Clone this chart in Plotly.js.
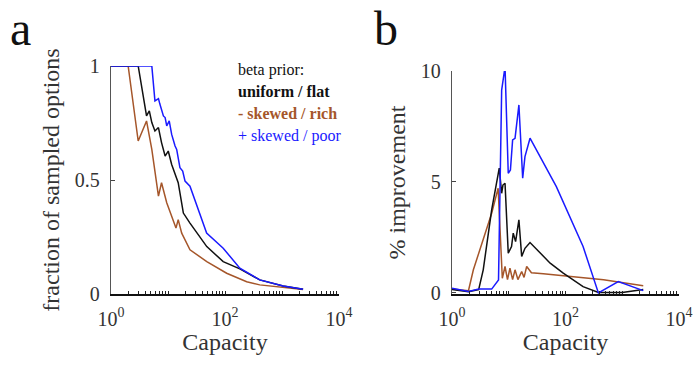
<!DOCTYPE html>
<html>
<head>
<meta charset="utf-8">
<script src="https://cdn.plot.ly/plotly-3.0.1.min.js"></script>
<style>html,body{margin:0;padding:0;background:#fff;}#chart{width:694px;height:370px;}</style>
</head>
<body>
<div id="chart"></div>
<script>
// ---- Panel a: fraction of sampled options ----
const aUniformX = [1, 3, 4.2, 4.7, 5.2, 5.9, 6.8, 7.7, 8.9, 10.1, 11.6, 13.8, 15.1, 16.2, 18.6, 24.3, 47.9, 93, 182, 407, 1047, 2344];
const aUniformY = [1, 1, 0.781, 0.803, 0.752, 0.715, 0.730, 0.664, 0.605, 0.627, 0.568, 0.510, 0.488, 0.444, 0.355, 0.311, 0.208, 0.142, 0.110, 0.062, 0.035, 0.021];
const aRichX = [1, 2, 3, 4.2, 5.2, 6.8, 7.7, 9.5, 11.6, 13.8, 15.1, 17.4, 24.3, 47.9, 107, 240, 407, 1047, 2344];
const aRichY = [1, 1, 0.671, 0.759, 0.634, 0.429, 0.488, 0.400, 0.341, 0.289, 0.326, 0.267, 0.194, 0.142, 0.091, 0.054, 0.040, 0.028, 0.020];
const aPoorX = [1, 5.2, 5.9, 6.8, 7.2, 8.3, 8.9, 9.5, 10.5, 11.6, 13.3, 14.2, 16.2, 18.1, 19.9, 24.3, 47.6, 93, 182, 407, 1047, 2344];
const aPoorY = [1, 1, 0.847, 0.857, 0.833, 0.781, 0.774, 0.737, 0.759, 0.700, 0.649, 0.634, 0.554, 0.539, 0.495, 0.473, 0.267, 0.201, 0.113, 0.062, 0.035, 0.021];

// ---- Panel b: % improvement ----
const bUniformX = [1, 1.95, 2.95, 3.55, 5.0, 6.8, 7.5, 7.9, 8.6, 9.8, 11.2, 12.0, 13.2, 15.1, 16.9, 19.3, 23.7, 53.7, 91.2, 204, 380, 1000, 2344];
const bUniformY = [0.15, 0.05, 0.15, 1.04, 3.74, 5.62, 4.49, 4.86, 4.94, 1.79, 2.09, 2.69, 2.31, 3.29, 1.64, 2.01, 2.27, 1.34, 0.89, 0.28, 0.02, 0.02, 0.15];
const bRichX = [1, 1.95, 2.38, 3.55, 5.0, 6.5, 7.7, 8.6, 9.5, 10.5, 11.7, 12.9, 14.5, 16.9, 18.6, 20.7, 25.1, 40.7, 468, 2344];
const bRichY = [0.17, 0.10, 1.04, 2.39, 3.59, 4.72, 0.66, 1.19, 0.60, 1.11, 0.60, 1.04, 0.60, 0.96, 0.70, 1.19, 0.91, 0.86, 0.59, 0.32];
const bPoorX = [1, 1.95, 2.95, 5.0, 6.6, 7.5, 8.6, 9.8, 10.7, 11.7, 12.9, 15.1, 17.6, 19.3, 23.7, 69, 204, 380, 851, 2344];
const bPoorY = [0.21, 0.06, 0.17, 0.17, 0.58, 9.14, 10.19, 5.39, 5.54, 6.89, 6.97, 8.47, 5.17, 6.14, 6.97, 4.79, 2.09, 0, 0.51, 0.10];

const legendLines = ["beta prior:", "<b>uniform / flat</b>", "<b>- skewed / rich</b>", "+ skewed / poor"];
const aYTicks = [0, 0.5, 1];
const aYTickText = ["0", "0.5", "1"];
const bYTicks = [0, 5, 10];
const bYTickText = ["0", "5", "10"];
const xTickVals = [1, 100, 10000];
const xTickText = ["10<sup>0</sup>", "10<sup>2</sup>", "10<sup>4</sup>"];

const BROWN = "#a5562a", BLUE = "#1a1aff", BLACK = "#111111";
const FONT = "'Liberation Serif', 'Times New Roman', serif";

// minor log tick positions (every digit of each decade)
const xMinorVals = [];
for (let d = 0; d < 4; d++) {
  for (let k = 1; k < 10; k++) xMinorVals.push(k * Math.pow(10, d));
}
xMinorVals.push(10000);

function line(x, y, color, xa, ya) {
  return {x: x, y: y, type: "scatter", mode: "lines", xaxis: xa, yaxis: ya,
          line: {color: color, width: 1.5}, hoverinfo: "skip", showlegend: false};
}
const data = [
  line(aRichX, aRichY, BROWN, "x", "y"),
  line(aUniformX, aUniformY, BLACK, "x", "y"),
  line(aPoorX, aPoorY, BLUE, "x", "y"),
  line(bRichX, bRichY, BROWN, "x2", "y2"),
  line(bUniformX, bUniformY, BLACK, "x2", "y2"),
  line(bPoorX, bPoorY, BLUE, "x2", "y2")
];

function xAxis(domain, anchor) {
  return {type: "log", range: [0, 4], domain: domain, anchor: anchor,
    tickvals: xTickVals, ticktext: xTickText, tickangle: 0, ticks: "inside", ticklen: 3, tickwidth: 1, tickcolor: "#222",
    minor: {tickvals: xMinorVals, ticks: "inside", ticklen: 3, tickwidth: 1, tickcolor: "#222", showgrid: false},
    showline: true, linecolor: "#111", linewidth: 1.5, showgrid: false, zeroline: false,
    tickfont: {family: FONT, size: 20, color: "#333"}, ticklabelstandoff: 6,
    title: {text: "Capacity", font: {family: FONT, size: 24, color: "#333"}, standoff: 4}};
}
function yAxis(domain, anchor, range, vals, text, title) {
  return {range: range, domain: domain, anchor: anchor, tickvals: vals, ticktext: text,
    ticks: "inside", ticklen: 4, tickcolor: "#444", showline: true, linecolor: "#555", linewidth: 1.2,
    showgrid: false, zeroline: false, tickfont: {family: FONT, size: 20, color: "#333"}, ticklabelstandoff: 6,
    title: {text: title, font: {family: FONT, size: 24, color: "#333"}, standoff: 8}};
}

const annotations = [
  {text: "a", x: 8, y: 57},
  {text: "b", x: 372, y: 57}
].map(a => ({text: a.text, xref: "paper", yref: "paper", x: (a.x - 111) / 568, y: (294 - a.y) / 228,
  xanchor: "left", yanchor: "bottom", showarrow: false, font: {family: FONT, size: 48, color: "#111"}}));

const legendColors = ["#111", "#111", BROWN, BLUE];
const legendY = [70, 91.5, 113.5, 136];
legendLines.forEach((t, i) => {
  annotations.push({text: t, xref: "paper", yref: "paper", x: (236 - 111) / 568, y: (294 - legendY[i]) / 228,
    xanchor: "left", yanchor: "middle", showarrow: false, font: {family: FONT, size: 16, color: legendColors[i]}});
});

const layout = {
  width: 694, height: 370,
  margin: {l: 111, r: 15, t: 66, b: 76},
  paper_bgcolor: "#fff", plot_bgcolor: "#fff",
  xaxis: xAxis([0, 228 / 568], "y"),
  yaxis: yAxis([0, 1], "x", [0, 1], aYTicks, aYTickText, "fraction of sampled options"),
  xaxis2: xAxis([341 / 568, 1], "y2"),
  yaxis2: yAxis([0, 223 / 228], "x2", [-0.05, 10.0], bYTicks, bYTickText, "% improvement"),
  annotations: annotations,
  showlegend: false
};
Plotly.newPlot("chart", data, layout, {staticPlot: true, displayModeBar: false});
</script>
</body>
</html>
